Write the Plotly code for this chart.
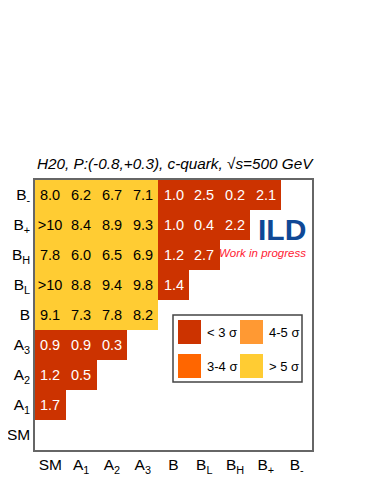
import plotly.graph_objects as go

# ---- data ----
models = ["SM", "A1", "A2", "A3", "B", "BL", "BH", "B+", "B-"]
tick_labels = ["SM", "A<sub>1</sub>", "A<sub>2</sub>", "A<sub>3</sub>", "B",
               "B<sub>L</sub>", "B<sub>H</sub>", "B<sub>+</sub>", "B<sub>-</sub>"]

# significance (sigma) of separation, row model vs column model
row_SM = []
row_A1 = ["1.7"]
row_A2 = ["1.2", "0.5"]
row_A3 = ["0.9", "0.9", "0.3"]
row_B = ["9.1", "7.3", "7.8", "8.2"]
row_BL = [">10", "8.8", "9.4", "9.8", "1.4"]
row_BH = ["7.8", "6.0", "6.5", "6.9", "1.2", "2.7"]
row_Bp = [">10", "8.4", "8.9", "9.3", "1.0", "0.4", "2.2"]
row_Bm = ["8.0", "6.2", "6.7", "7.1", "1.0", "2.5", "0.2", "2.1"]
rows = [row_SM, row_A1, row_A2, row_A3, row_B, row_BL, row_BH, row_Bp, row_Bm]

class_names = ["< 3 σ", "3-4 σ", "4-5 σ", "> 5 σ"]
class_colors = ["#CC3300", "#FF6600", "#FF9933", "#FFCC33"]
class_text = ["white", "white", "black", "black"]
class_lo = [0, 3, 4, 5]

def val(s):
    return float(s.replace(">", ""))

def cls(v):
    c = 0
    for i, lo in enumerate(class_lo):
        if v >= lo:
            c = i
    return c

fig = go.Figure()
for ci in range(len(class_names)):
    z, txt = [], []
    for r in rows:
        zr, tr = [], []
        for j in range(len(models)):
            if j < len(r) and cls(val(r[j])) == ci:
                zr.append(1)
                tr.append(r[j])
            else:
                zr.append(None)
                tr.append("")
        z.append(zr)
        txt.append(tr)
    fig.add_trace(go.Heatmap(
        z=z, x=models, y=models, text=txt, texttemplate="%{text}",
        textfont=dict(color=class_text[ci], size=14.5, family="Liberation Sans"),
        colorscale=[[0, class_colors[ci]], [1, class_colors[ci]]],
        showscale=False, hoverinfo="skip",
    ))

OFF = 8  # page body margin
L, R, T, B = 35, 312, 180, 450
W, H = 374 - 2 * OFF, 484 - 2 * OFF
def px(x):
    return (x - L) / (R - L)
def py(y):
    return (B - y) / (B - T)

axis_common = dict(type="category", categoryorder="array", categoryarray=models,
                   tickvals=models, ticktext=tick_labels, showgrid=False, zeroline=False,
                   showline=True, mirror=True, linecolor="#666666", linewidth=1.5,
                   ticks="", range=[-0.5, 8.5], fixedrange=True, automargin=False,
                   tickfont=dict(size=15.5, family="Liberation Sans", color="black"))

fig.update_layout(
    width=W, height=H,
    margin=dict(l=L - OFF, r=(W + OFF) - R, t=T - OFF, b=(H + OFF) - B),
    paper_bgcolor="white", plot_bgcolor="white",
    font=dict(family="Liberation Sans", size=15, color="black"),
    xaxis=axis_common,
    yaxis=axis_common,
)

annotations = [
    dict(text="H20, P:(-0.8,+0.3), c-quark, √s=500 GeV", xref="paper", yref="paper",
         x=0, y=py(163), xanchor="left", yanchor="middle", showarrow=False,
         font=dict(size=15.3, style="italic", color="black")),
    dict(text="<b>ILD</b>", xref="paper", yref="paper", x=px(282), y=py(229),
         xanchor="center", yanchor="middle", showarrow=False,
         font=dict(size=30, color="#0F4896")),
    dict(text="Work in progress", xref="paper", yref="paper", x=px(308), y=py(253),
         xanchor="right", yanchor="middle", showarrow=False,
         font=dict(size=11.5, style="italic", color="#FF1A33")),
]

shapes = [dict(type="rect", xref="paper", yref="paper",
               x0=px(173), x1=px(302), y0=py(382), y1=py(315),
               line=dict(color="#444444", width=1.5), fillcolor="white", layer="above")]

swatch_pos = [(178, 320), (178, 354), (240, 320), (240, 354)]
for ci, (sx, sy) in enumerate(swatch_pos):
    shapes.append(dict(type="rect", xref="paper", yref="paper",
                       x0=px(sx), x1=px(sx + 23), y0=py(sy + 24), y1=py(sy),
                       line=dict(width=0), fillcolor=class_colors[ci], layer="above"))
    annotations.append(dict(text=class_names[ci], xref="paper", yref="paper",
                            x=px(sx + 27), y=py(sy + 12.5), xanchor="left", yanchor="middle",
                            showarrow=False, font=dict(size=13, color="black")))

fig.update_layout(annotations=annotations, shapes=shapes)
fig.write_html("out.html")
